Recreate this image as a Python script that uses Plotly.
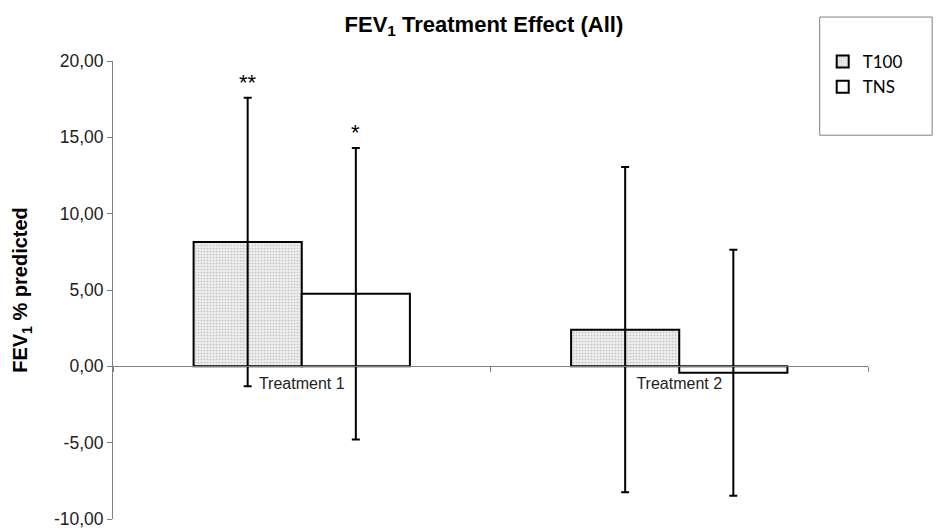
import plotly.graph_objects as go

# Data
categories = ["Treatment 1", "Treatment 2"]
t100_mean = [8.15, 2.40]
t100_err = [9.45, 10.65]
tns_mean = [4.75, -0.42]
tns_err = [9.55, 8.05]
t100_sig = ["**", ""]
tns_sig = ["*", ""]

y_ticks = [-10, -5, 0, 5, 10, 15, 20]
y_ticklabels = ["-10,00", "-5,00", "0,00", "5,00", "10,00", "15,00", "20,00"]

BARGAP = 0.427
bar_w = (1 - BARGAP) / 2

fig = go.Figure()

fig.add_trace(go.Bar(
    name="T100", x=categories, y=t100_mean,
    error_y=dict(type="data", array=t100_err, visible=True,
                 color="black", thickness=2, width=4),
    marker=dict(color="#e6e6e6",
                pattern=dict(shape=".", fgcolor="#9a9a9a", bgcolor="#ececec",
                             size=3, solidity=0.25),
                line=dict(color="black", width=2)),
))
fig.add_trace(go.Bar(
    name="TNS", x=categories, y=tns_mean,
    error_y=dict(type="data", array=tns_err, visible=True,
                 color="black", thickness=2, width=4),
    marker=dict(color="white", line=dict(color="black", width=2)),
))

# significance markers above the error bars
annotations = []
for i, cat in enumerate(categories):
    for sig, mean, err, off in ((t100_sig[i], t100_mean[i], t100_err[i], -bar_w / 2),
                                (tns_sig[i], tns_mean[i], tns_err[i], bar_w / 2)):
        if sig:
            annotations.append(dict(
                x=i + off, y=mean + err, xref="x", yref="y", text=sig,
                showarrow=False, yanchor="bottom", yshift=1,
                font=dict(family="Liberation Sans, Arial", size=22, color="black"),
            ))

fig.update_layout(
    width=936, height=530,
    margin=dict(l=113, r=68, t=61, b=11, autoexpand=False),
    paper_bgcolor="white", plot_bgcolor="white",
    barmode="group", bargap=BARGAP, bargroupgap=0,
    title=dict(text="<b>FEV<sub>1</sub> Treatment Effect (All)</b>",
               x=0.517, xanchor="center", y=0.955, yanchor="middle",
               font=dict(family="Liberation Sans Narrow, Arial Narrow, Liberation Sans, Arial",
                         size=22, color="black")),
    font=dict(family="Liberation Sans, Arial", color="black"),
    xaxis=dict(type="category", anchor="free", position=1/3, automargin=False,
               showline=True, linecolor="#808080", linewidth=1,
               ticks="outside", tickson="boundaries", ticklen=5, tickcolor="#808080",
               tickfont=dict(size=16, color="#222222"), ticklabelstandoff=2,
               showgrid=False, zeroline=False),
    yaxis=dict(range=[-10, 20], tickmode="array", tickvals=y_ticks, ticktext=y_ticklabels,
               automargin=False,
               showline=True, linecolor="#808080", linewidth=1,
               ticks="outside", ticklen=5, tickcolor="#808080",
               tickfont=dict(size=17.5, color="#222222"),
               showgrid=False, zeroline=False,
               title=dict(text="<b>FEV<sub>1</sub> % predicted</b>",
                          font=dict(size=20, color="black"), standoff=20)),
    legend=dict(x=0.940, y=1.037, xanchor="left", yanchor="top",
                bgcolor="rgba(0,0,0,0)", borderwidth=0,
                font=dict(family="Lato, Open Sans", size=17, color="black"),
                tracegroupgap=0),
    annotations=annotations,
    shapes=[dict(type="rect", xref="paper", yref="paper",
                 x0=0.936, x1=1.085, y0=0.838, y1=1.096,
                 line=dict(color="#808080", width=1), fillcolor="rgba(0,0,0,0)")],
)

fig.write_html("out.html")
